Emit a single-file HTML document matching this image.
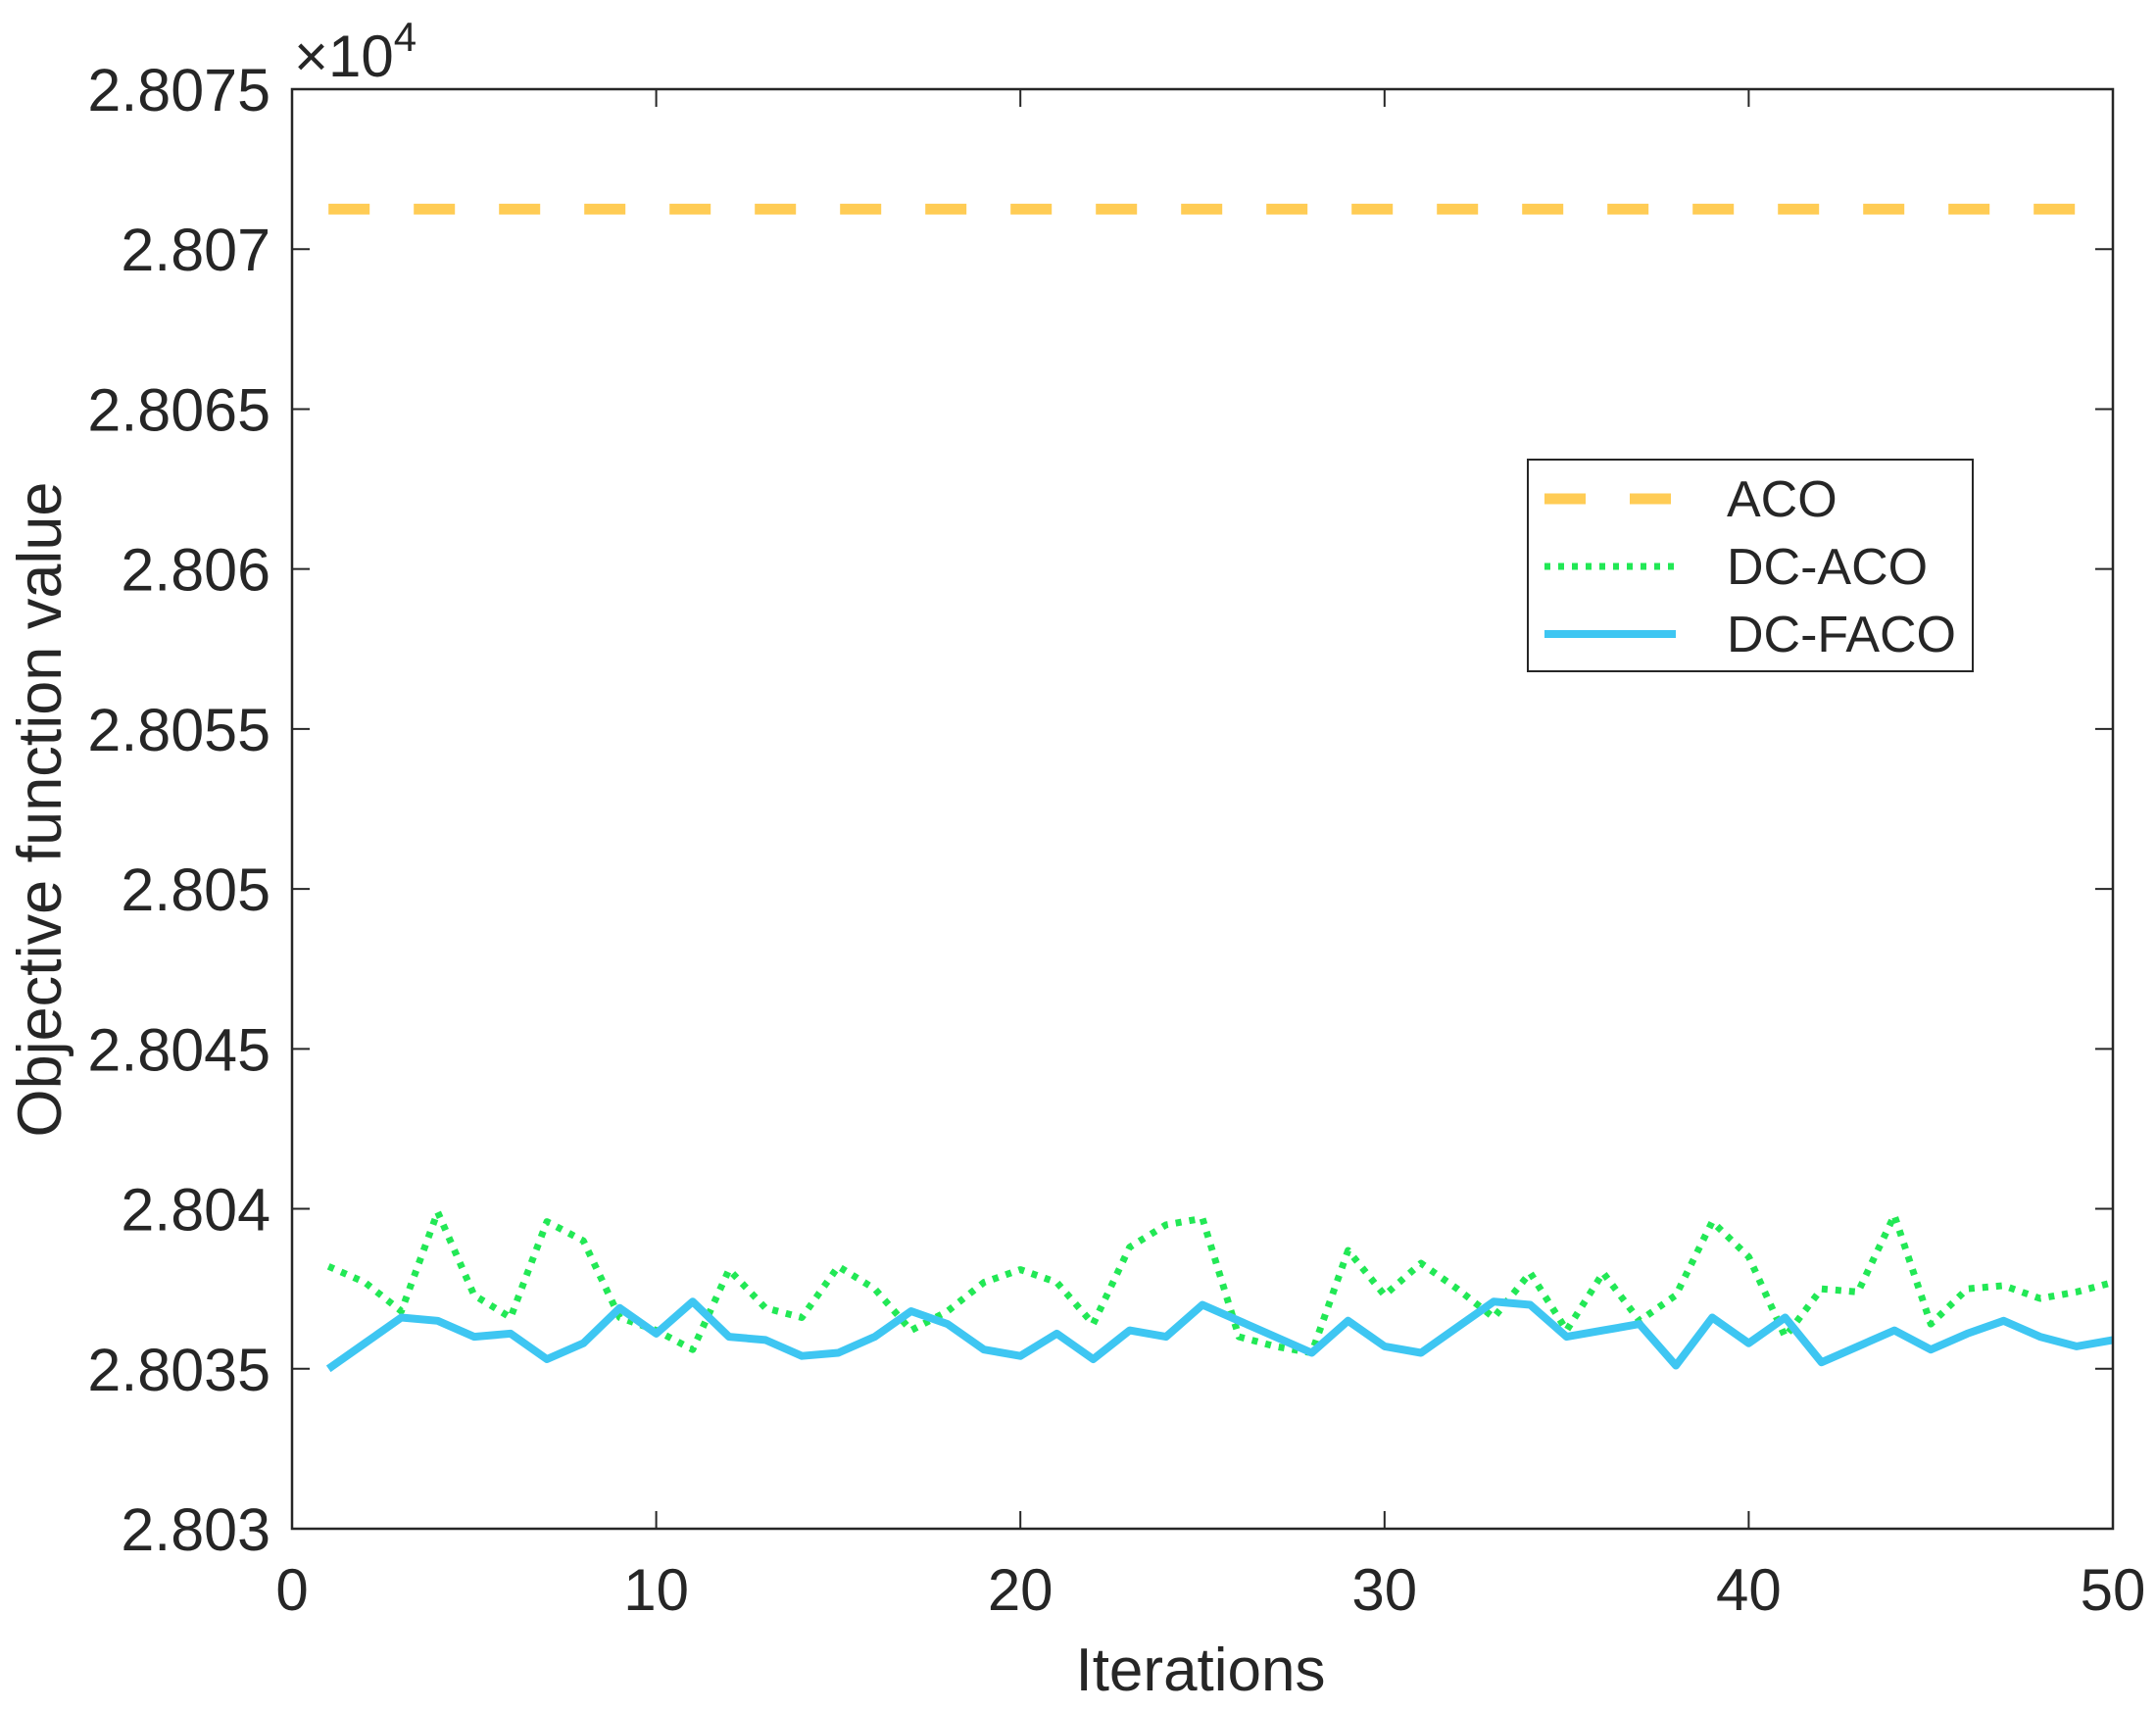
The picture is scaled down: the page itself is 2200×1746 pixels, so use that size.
<!DOCTYPE html>
<html><head><meta charset="utf-8"><style>
html,body{margin:0;padding:0;background:#fff}
svg{display:block}
text{font-family:"Liberation Sans",Arial,sans-serif;fill:#262626}
</style></head><body>
<svg id="chart" width="2200" height="1746" viewBox="0 0 2200 1746" xmlns="http://www.w3.org/2000/svg">
</svg>
<script>
const iterations = Array.from({length:50},(_,i)=>i+1);
const acoValue = 28071.25;
const dcAco = [28038.2,28037.7,28036.8,28039.9,28037.3,28036.6,28039.6,28039.0,28036.6,28036.2,
28035.6,28038.1,28036.9,28036.6,28038.2,28037.5,28036.2,28036.8,28037.7,28038.1,
28037.7,28036.4,28038.8,28039.5,28039.7,28036.0,28035.7,28035.5,28038.7,28037.3,
28038.3,28037.5,28036.6,28038.0,28036.2,28038.0,28036.5,28037.3,28039.6,28038.5,
28036.0,28037.5,28037.4,28039.8,28036.4,28037.5,28037.6,28037.2,28037.4,28037.7];
const dcFaco = [28035.0,28035.8,28036.6,28036.5,28036.0,28036.1,28035.3,28035.8,28036.9,28036.1,
28037.1,28036.0,28035.9,28035.4,28035.5,28036.0,28036.8,28036.4,28035.6,28035.4,
28036.1,28035.3,28036.2,28036.0,28037.0,28036.5,28036.0,28035.5,28036.5,28035.7,
28035.5,28036.3,28037.1,28037.0,28036.0,28036.2,28036.4,28035.1,28036.6,28035.8,
28036.6,28035.2,28035.7,28036.2,28035.6,28036.1,28036.5,28036.0,28035.7,28035.9];
const xTicks = [0,10,20,30,40,50];
const yTicks = [28030,28035,28040,28045,28050,28055,28060,28065,28070,28075];
const yTickLabels = ["2.803","2.8035","2.804","2.8045","2.805","2.8055","2.806","2.8065","2.807","2.8075"];

const L=298,R=2156,T=91,B=1560;
const xMin=0,xMax=50,yMin=28030,yMax=28075;
const sx=v=>L+(v-xMin)/(xMax-xMin)*(R-L);
const sy=v=>B-(v-yMin)/(yMax-yMin)*(B-T);
const NS="http://www.w3.org/2000/svg";
const svg=document.getElementById('chart');
function mk(tag,attrs,parent){const e=document.createElementNS(NS,tag);for(const k in attrs)e.setAttribute(k,attrs[k]);(parent||svg).appendChild(e);return e;}

function line(vals,color,w,dash,name){
  const d=vals.map((v,i)=>(i?'L':'M')+sx(iterations[i]).toFixed(1)+' '+sy(v).toFixed(1)).join(' ');
  const p=mk('path',{d:d,fill:'none',stroke:color,'stroke-width':w,'stroke-dasharray':dash||'none','stroke-linejoin':'round'});
  
  
}
line(iterations.map(()=>acoValue),'#FFCC55',11,'42 45','aco-line');
line(dcAco,'#22E855',7,'6 8','dc-aco-line');
line(dcFaco,'#3EC6F2',8,null,'dc-faco-line');

const box=mk('rect',{x:L,y:T,width:R-L,height:B-T,fill:'none',stroke:'#262626','stroke-width':2.5});



xTicks.forEach(v=>{
  const x=sx(v);
  const t1=mk('line',{x1:x,x2:x,y1:B,y2:B-18,stroke:'#262626','stroke-width':2});
  
  
  const t2=mk('line',{x1:x,x2:x,y1:T,y2:T+18,stroke:'#262626','stroke-width':2});
  
  
  const tx=mk('text',{x:x,y:1643,'text-anchor':'middle','font-size':60});
  tx.textContent=v;
  
  
});
yTicks.forEach((v,i)=>{
  const y=sy(v);
  const t1=mk('line',{x1:L,x2:L+18,y1:y,y2:y,stroke:'#262626','stroke-width':2});
  
  
  const t2=mk('line',{x1:R,x2:R-18,y1:y,y2:y,stroke:'#262626','stroke-width':2});
  
  
  const tx=mk('text',{x:276,y:y+22,'text-anchor':'end','font-size':61});
  tx.textContent=yTickLabels[i];
  
  
});
</script>
<svg style="position:absolute;left:0;top:0" width="2200" height="1746">
<text x="300" y="78" font-size="60">×10<tspan font-size="42" dy="-26">4</tspan></text>
<text x="1225" y="1725" text-anchor="middle" font-size="62">Iterations</text>
<text transform="translate(62,826) rotate(-90)" text-anchor="middle" font-size="63">Objective function value</text>
<g>
<rect x="1559" y="469" width="454" height="216" fill="#fff" stroke="#262626" stroke-width="2"/>
<line x1="1576" x2="1710" y1="509" y2="509" stroke="#FFCC55" stroke-width="11" stroke-dasharray="42 45"/>
<text x="1762" y="527" font-size="52">ACO</text>
<line x1="1576" x2="1710" y1="578" y2="578" stroke="#22E855" stroke-width="7" stroke-dasharray="6 8"/>
<text x="1762" y="596" font-size="52">DC-ACO</text>
<line x1="1576" x2="1710" y1="647" y2="647" stroke="#3EC6F2" stroke-width="8"/>
<text x="1762" y="665" font-size="52">DC-FACO</text>
</g>
</svg>
</body></html>
